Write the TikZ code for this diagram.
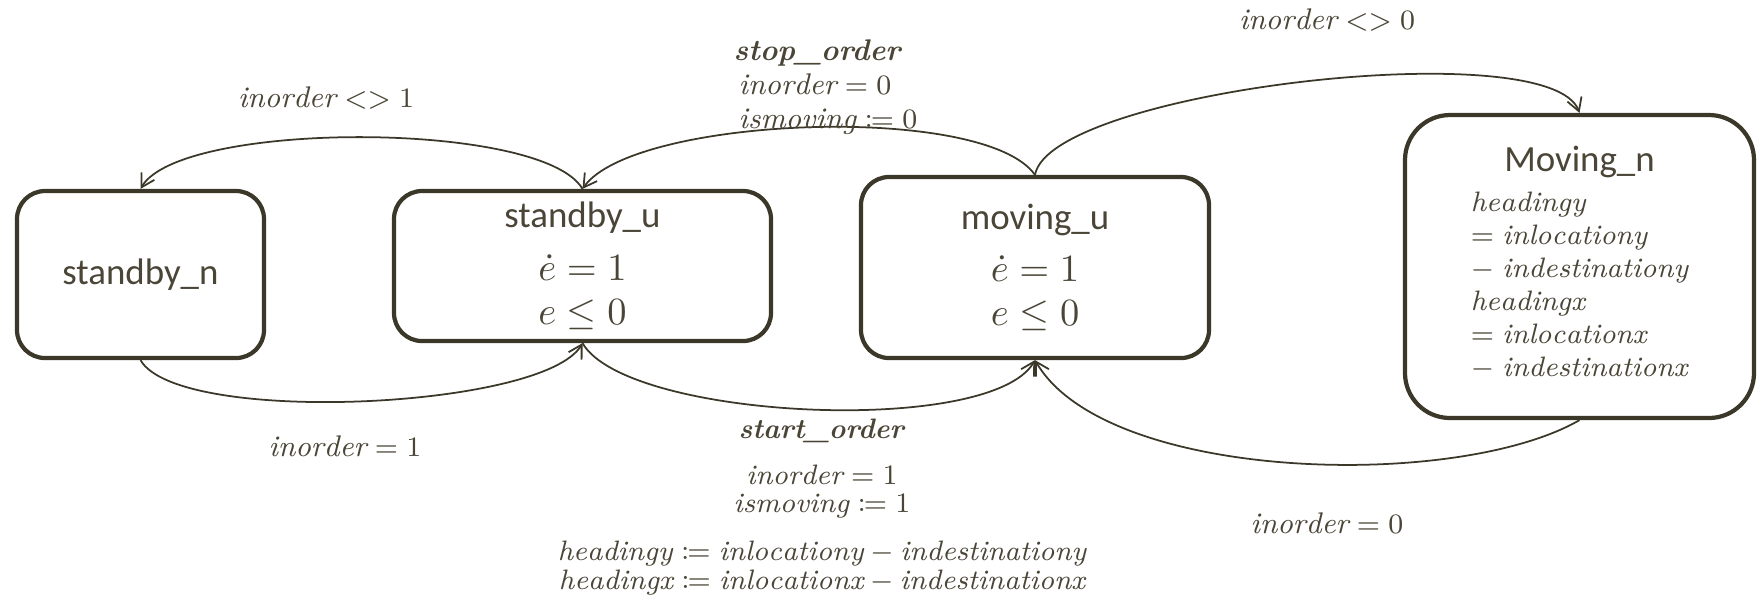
\documentclass[tikz,border=0pt]{standalone}
\usepackage{amsmath,amssymb,mathtools}
\usepackage{fontspec}
\setsansfont{Carlito}
\usepackage{xcolor}
\usetikzlibrary{arrows.meta,positioning}

\definecolor{ink}{HTML}{3B3729}
\definecolor{txt}{HTML}{4A4537}

\begin{document}
\begin{tikzpicture}[
    state/.style={draw=ink, line width=1.2pt, rounded corners=0.28cm, align=center,
      text=txt, font=\sffamily\fontsize{10.5}{12.5}\selectfont, inner sep=0pt},
    trans/.style={draw=ink, line width=0.5pt, -{Straight Barb[length=1.3mm,width=1.5mm]}},
    guard/.style={text=txt, font=\fontsize{8.5}{9.7}\selectfont, inner sep=0pt}
  ]
  \useasboundingbox (0,0) rectangle (17.63,-5.99);

  % States
  \node[state, minimum width=2.47cm, minimum height=1.67cm] (sn) at (1.405,-2.745) {standby\_n};
  \node[state, minimum width=3.77cm, minimum height=1.50cm] (su) at (5.825,-2.66)
    {standby\_u\\[2.5pt] {\rmfamily\fontsize{11}{12}\selectfont $\dot e = 1$}\\ {\rmfamily\fontsize{11}{12}\selectfont $e \leq 0$}};
  \node[state, minimum width=3.48cm, minimum height=1.81cm] (mu) at (10.35,-2.675)
    {moving\_u\\[2.5pt] {\rmfamily\fontsize{11}{12}\selectfont $\dot e = 1$}\\ {\rmfamily\fontsize{11}{12}\selectfont $e \leq 0$}};
  \node[state, minimum width=3.49cm, minimum height=3.03cm, rounded corners=0.45cm] (mn) at (15.795,-2.665)
    {Moving\_n\\[2pt]
     {\rmfamily\fontsize{8}{9.4}\selectfont $\begin{array}{@{}l@{}}
       \mathit{headingy}\\
       = \mathit{inlocationy}\\
       -\;\mathit{indestinationy}\\
       \mathit{headingx}\\
       = \mathit{inlocationx}\\
       -\;\mathit{indestinationx}
     \end{array}$}};

  % Transitions
  \draw[trans] (su.north) to[out=120,in=60,looseness=0.46] (sn.north);
  \draw[trans] (mu.north) to[out=125,in=55,looseness=0.5] (su.north);
  \draw[trans] (mu.north) to[out=80,in=110,looseness=0.4] (mn.north);
  \draw[trans] (sn.south) to[out=-60,in=-120,looseness=0.44] (su.south);
  \draw[trans] (su.south) to[out=-60,in=-120,looseness=0.5] (mu.south);
  \draw[trans] (mn.south) to[out=-150,in=-60,looseness=0.66] (mu.south);

  % Guards and updates
  \node[guard] (g1) at (3.26,-0.98) {$\mathit{inorder} <> 1$};
  \node[guard, align=left, anchor=west] (g2) at (7.33,-0.87)
    {\textbf{\textit{stop\_order}}\\ \,$\mathit{inorder} = 0$\\ \,$\mathit{ismoving} \coloneqq 0$};
  \node[guard] (g3) at (13.27,-0.20) {$\mathit{inorder} <> 0$};
  \node[guard] (g4) at (3.45,-4.46) {$\mathit{inorder} = 1$};
  \node[guard, align=center, font=\fontsize{8}{8.2}\selectfont] (g5) at (8.22,-5.07)
    {\textbf{\textit{start\_order}}\\[4.8pt]
     $\mathit{inorder} = 1$\\
     $\mathit{ismoving} \coloneqq 1$\\[5.4pt]
     $\mathit{headingy} \coloneqq \mathit{inlocationy} - \mathit{indestinationy}$\\
     $\mathit{headingx} \coloneqq \mathit{inlocationx} - \mathit{indestinationx}$};
  \node[guard] (g6) at (13.27,-5.23) {$\mathit{inorder} = 0$};
\end{tikzpicture}
\end{document}
